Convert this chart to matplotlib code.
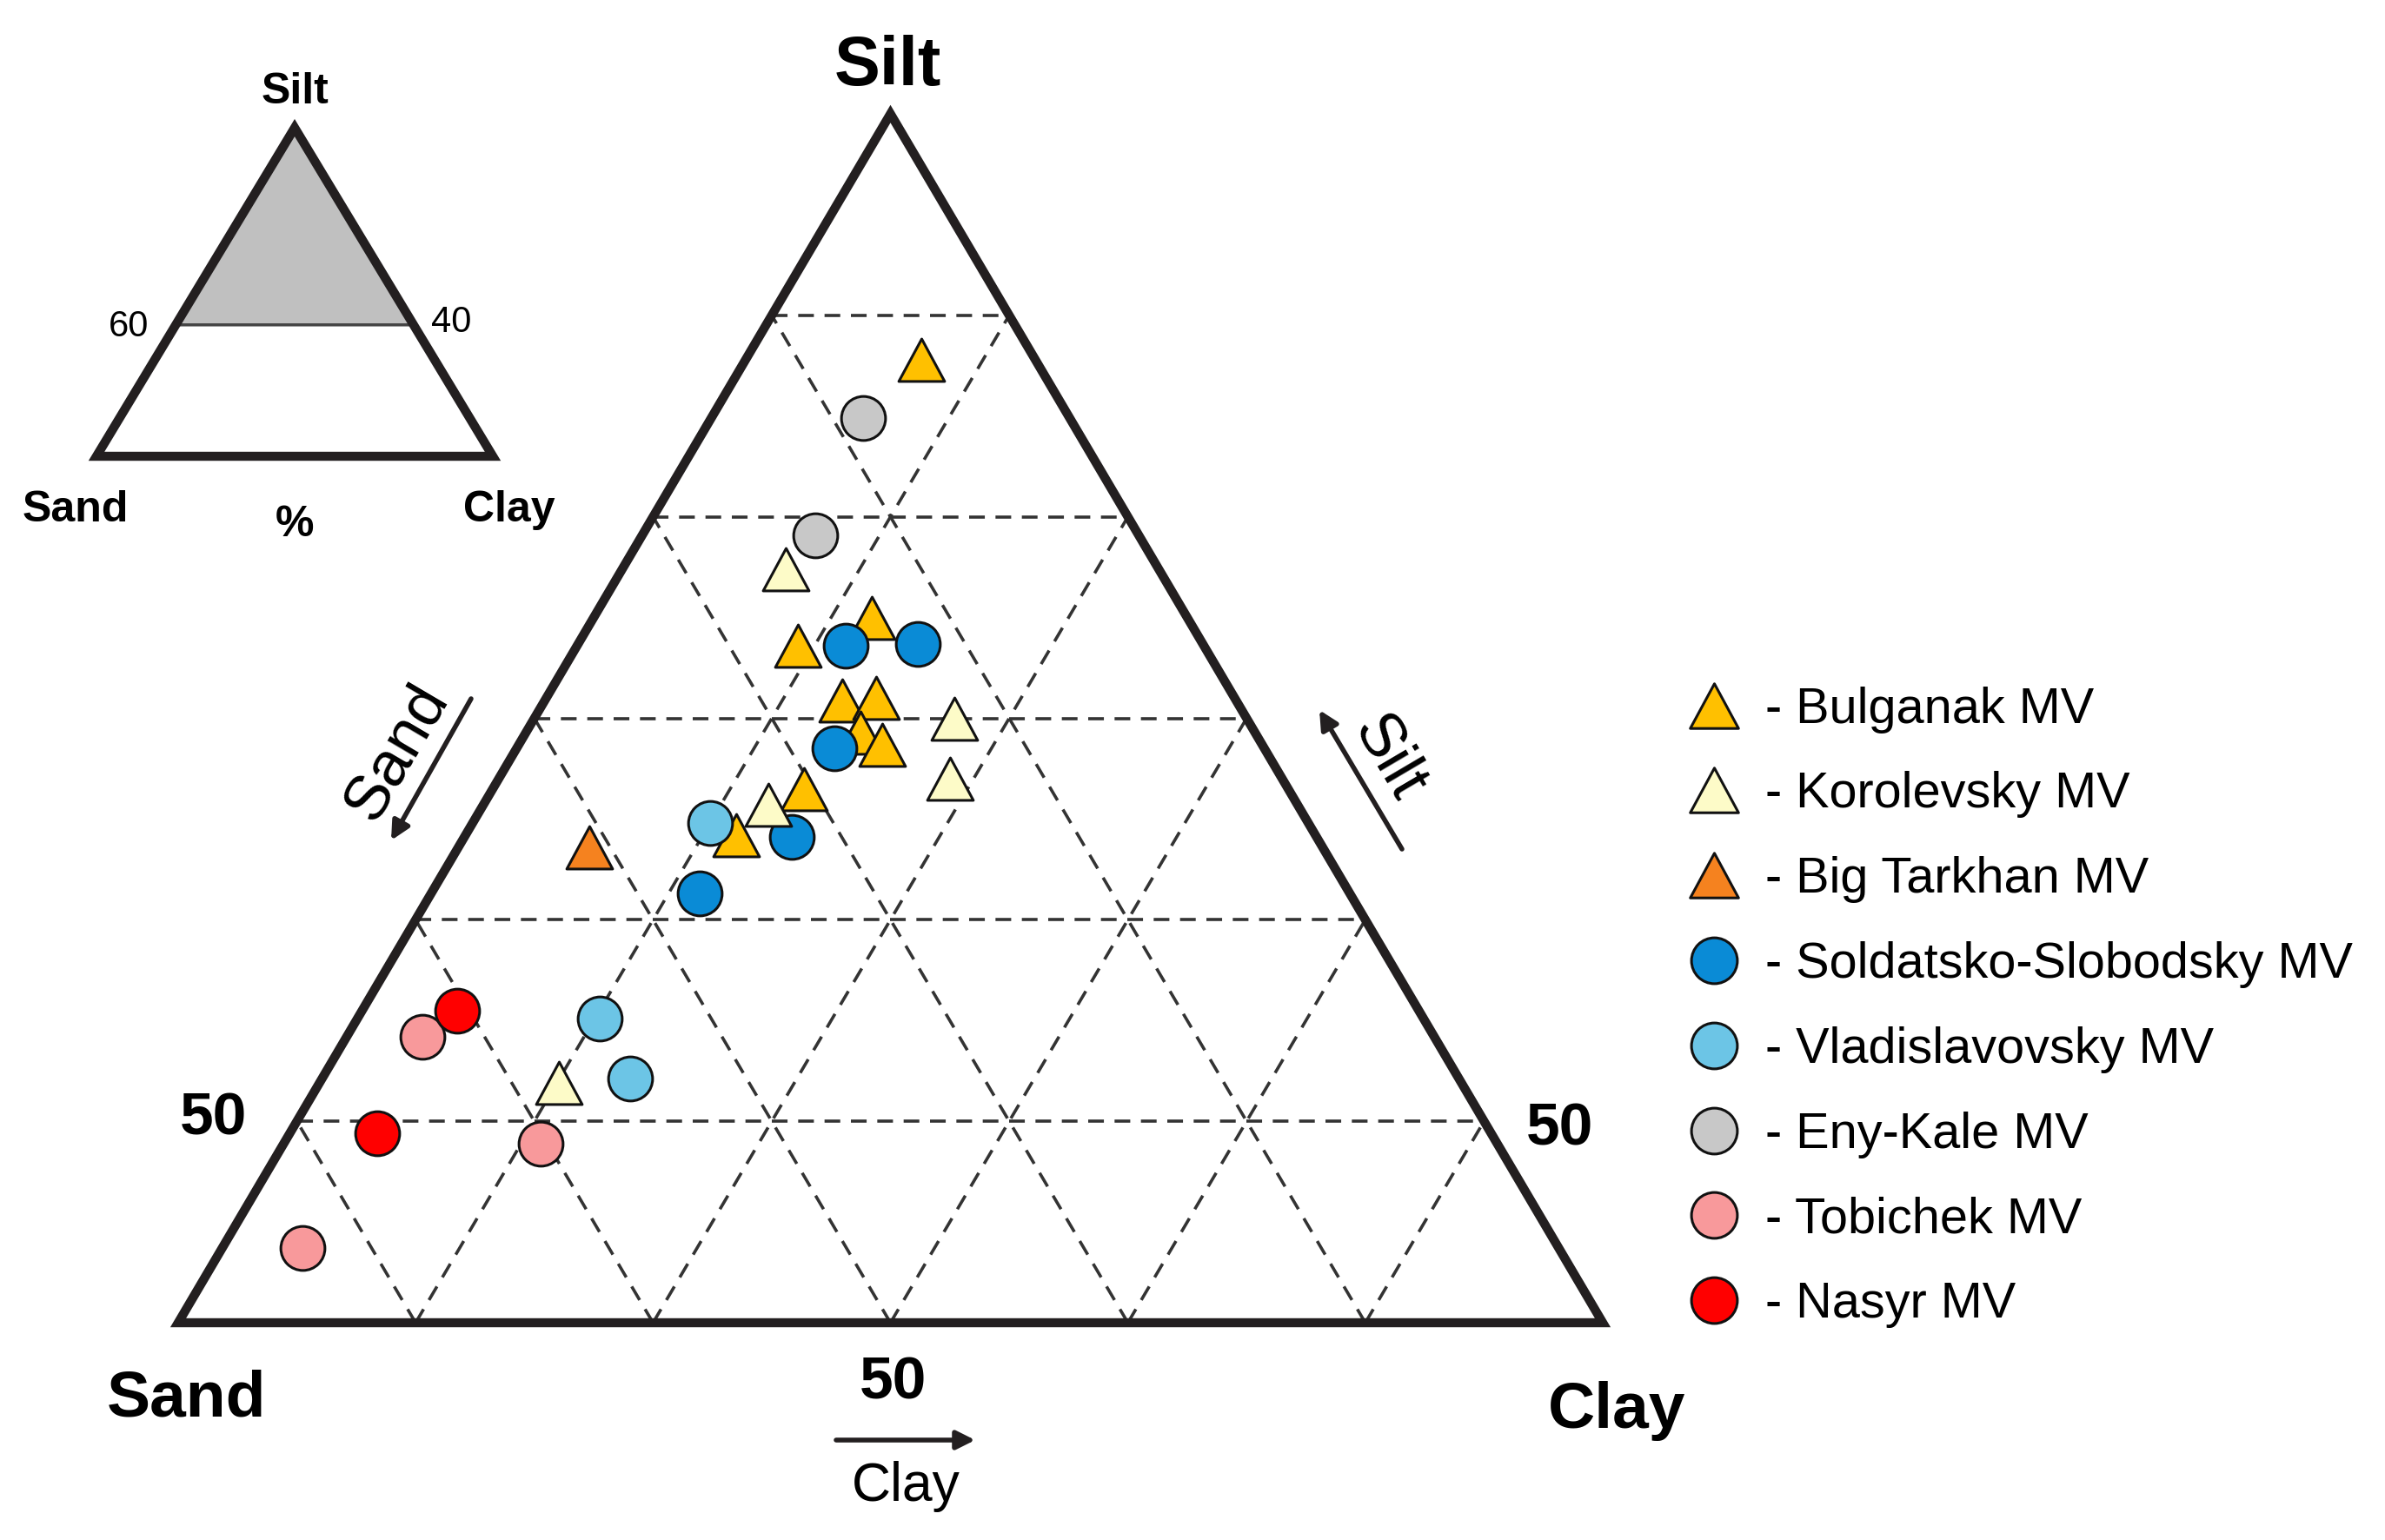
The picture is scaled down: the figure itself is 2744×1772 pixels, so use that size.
import matplotlib.pyplot as plt
import numpy as np
from matplotlib.lines import Line2D
from matplotlib.patches import Polygon
from matplotlib.path import Path

plt.rcParams['font.family'] = ['Liberation Sans', 'DejaVu Sans']

W, H = 2744, 1772
DARK = '#231f20'

# grain size composition of the samples, % (sand is the remainder)
bulganak_silt = [87.8, 75.0, 73.6, 70.9, 71.0, 69.3, 68.7, 66.5, 64.2]
bulganak_clay = [7.4, 11.7, 9.3, 12.5, 13.9, 14.1, 15.3, 13.1, 11.4]
soldatsko_silt = [73.6, 73.7, 68.5, 64.1, 61.3]
soldatsko_clay = [11.3, 14.3, 13.4, 13.8, 11.3]
korolevsky_silt = [77.4, 70.0, 67.0, 65.7, 51.9]
korolevsky_clay = [6.9, 17.7, 19.0, 12.0, 10.1]
tarkhan_silt = [63.6]
tarkhan_clay = [5.5]
vladislav_silt = [64.8, 55.1, 52.1]
vladislav_clay = [10.0, 10.2, 13.0]
enykale_silt = [84.9, 79.1]
enykale_clay = [6.4, 7.3]
tobichek_silt = [54.2, 48.9, 43.7]
tobichek_clay = [3.2, 10.8, 3.4]
nasyr_silt = [55.5, 49.4]
nasyr_clay = [4.0, 3.7]

# (label, silt, clay, marker, face colour), drawing order
series = [
    ("Bulganak MV", bulganak_silt, bulganak_clay, "tri", "#ffc000"),
    ("Soldatsko-Slobodsky MV", soldatsko_silt, soldatsko_clay, "o", "#0a8bd6"),
    ("Korolevsky MV", korolevsky_silt, korolevsky_clay, "tri", "#fdfbc8"),
    ("Big Tarkhan MV", tarkhan_silt, tarkhan_clay, "tri", "#f5821f"),
    ("Vladislavovsky MV", vladislav_silt, vladislav_clay, "o", "#6cc5e6"),
    ("Eny-Kale MV", enykale_silt, enykale_clay, "o", "#c8c8c8"),
    ("Tobichek MV", tobichek_silt, tobichek_clay, "o", "#f8999b"),
    ("Nasyr MV", nasyr_silt, nasyr_clay, "o", "#ff0000"),
]
legend_order = ["Bulganak MV", "Korolevsky MV", "Big Tarkhan MV",
                "Soldatsko-Slobodsky MV", "Vladislavovsky MV", "Eny-Kale MV",
                "Tobichek MV", "Nasyr MV"]

SILT_MIN = 40
SPAN = 100 - SILT_MIN
TRI = Path([(0.0, 1.0), (-1.08, -1.0), (1.08, -1.0), (0.0, 1.0)], closed=True)
GRID = dict(color='#333333', lw=2.6, ls=(0, (5, 3.4)), zorder=1)


def to_xy(silt, clay, silt_min=SILT_MIN):
    silt = np.asarray(silt, dtype=float)
    clay = np.asarray(clay, dtype=float)
    return clay + (silt - silt_min) / 2, silt


def marker_of(kind):
    return TRI if kind == "tri" else "o"


fig = plt.figure(figsize=(W / 100, H / 100), dpi=100)

# main diagram: corners at these output pixels
px_left, px_right, px_base, px_top = 205, 1844, 1522, 131
sx = (px_right - px_left) / SPAN
sy = (px_base - px_top) / SPAN
ax = fig.add_axes([0, 0, 1, 1])
ax.set_xlim(-px_left / sx, (W - px_left) / sx)
ax.set_ylim(SILT_MIN - (H - px_base) / sy, SILT_MIN + px_base / sy)
ax.axis('off')

# dashed grid, every 10 %
for k in range(10, SPAN, 10):
    s = SILT_MIN + k
    x, y = to_xy([s, s], [0, SPAN - k])
    ax.plot(x, y, **GRID)
    x, y = to_xy([SILT_MIN, 100 - k], [k, k])
    ax.plot(x, y, **GRID)
    x, y = to_xy([SILT_MIN, 100 - k], [SPAN - k, 0])
    ax.plot(x, y, **GRID)

cx, cy = to_xy([SILT_MIN, SILT_MIN, 100], [0, SPAN, 0])
ax.add_patch(Polygon(np.column_stack([cx, cy]), closed=True, fill=False,
                     edgecolor=DARK, lw=7.5, joinstyle='miter', zorder=2))

handles = {}
for i, (label, silt, clay, kind, color) in enumerate(series):
    x, y = to_xy(silt, clay)
    ms = 38 if kind == "tri" else 36.5
    ax.plot(x, y, ls='none', marker=marker_of(kind), ms=ms, mfc=color,
            mec='#111111', mew=2.2, zorder=3 + i)
    handles[label] = Line2D([], [], ls='none', marker=marker_of(kind),
                            ms=40 if kind == "tri" else 38,
                            mfc=color, mec='#111111', mew=2.2)

fig.legend([handles[n] for n in legend_order], ["- " + n for n in legend_order],
           loc='center left', bbox_to_anchor=(1930 / W, 1 - 1159 / H),
           bbox_transform=fig.transFigure, frameon=False, fontsize=41.5,
           borderpad=0, borderaxespad=0, handlelength=1.45, handletextpad=0.3,
           labelspacing=0.76)


def label(px, py, s, size, bold=False, rot=0, va='baseline'):
    fig.text(px / W, 1 - py / H, s, fontsize=size, ha='center', va=va,
             fontweight='bold' if bold else 'normal', rotation=rot,
             rotation_mode='anchor', color='black')


def arrow(tail, head):
    ax.annotate('', xy=(head[0], H - head[1]), xytext=(tail[0], H - tail[1]),
                xycoords='figure pixels', textcoords='figure pixels',
                arrowprops=dict(arrowstyle='-|>', color=DARK, lw=4,
                                mutation_scale=32, shrinkA=0, shrinkB=0))


label(1021, 98, "Silt", 57, bold=True)
label(215, 1630, "Sand", 54, bold=True)
label(1860, 1643, "Clay", 54, bold=True)
label(246, 1305, "50", 50, bold=True)
label(1795, 1317, "50", 50, bold=True)
label(1028, 1610, "50", 50, bold=True)
label(1042, 1727, "Clay", 45)
arrow((962, 1657), (1122, 1657))

angle = np.degrees(np.arctan2(px_base - px_top, (px_right - px_left) / 2))
label(457, 866, "Sand", 52, rot=angle, va='center')
arrow((542, 804), (450, 967))
label(1598, 873, "Silt", 52, rot=-angle, va='center')
arrow((1613, 977), (1518, 817))

# inset: whole triangle with the shown part shaded
ins_l, ins_r, ins_b, ins_t = 111, 567, 525, 147
ins = fig.add_axes([ins_l / W, 1 - ins_b / H, (ins_r - ins_l) / W, (ins_b - ins_t) / H])
ins.set_xlim(0, 100)
ins.set_ylim(0, 100)
ins.axis('off')
shx, shy = to_xy([SILT_MIN, SILT_MIN, 100], [0, SPAN, 0], silt_min=0)
ins.add_patch(Polygon(np.column_stack([shx, shy]), closed=True,
                      facecolor='#c0c0c0', edgecolor='#444444', lw=2.5, clip_on=False))
tx, ty = to_xy([0, 0, 100], [0, 100, 0], silt_min=0)
ins.add_patch(Polygon(np.column_stack([tx, ty]), closed=True, fill=False,
                      edgecolor=DARK, lw=7.5, joinstyle='miter', clip_on=False, zorder=3))

label(339, 119, "Silt", 36, bold=True)
label(87, 600, "Sand", 36, bold=True)
label(586, 600, "Clay", 36, bold=True)
label(339, 617, "%", 36, bold=True)
label(148, 387, "60", 30)
label(519, 382, "40", 30)

fig.savefig("out.png", dpi=100)
